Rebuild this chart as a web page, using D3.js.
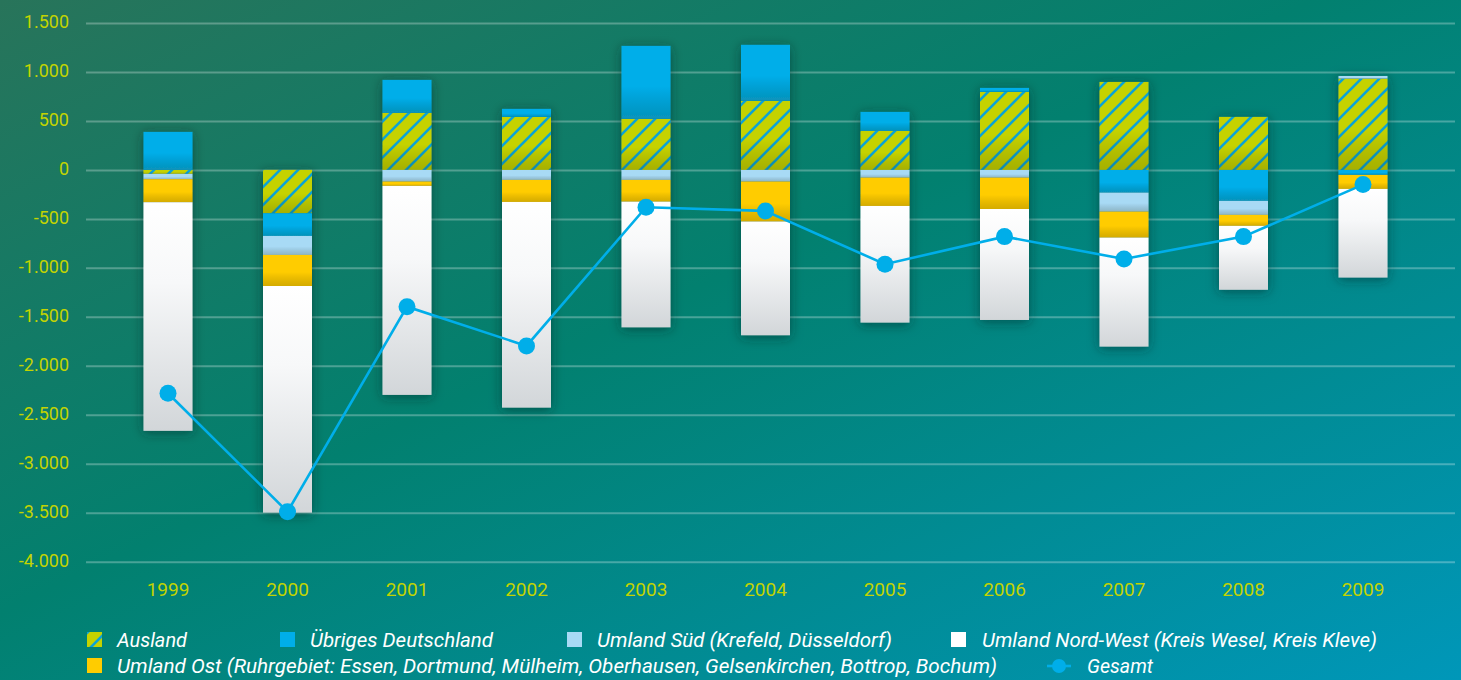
<!DOCTYPE html>
<html><head><meta charset="utf-8">
<script src="https://cdn.jsdelivr.net/npm/d3@7"></script>
<style>html,body{margin:0;padding:0;overflow:hidden;background:#0a7a6a}</style>
</head><body>
<svg id="c" width="1461" height="680"></svg>
<script>
// ---- data ----
const years = ["1999","2000","2001","2002","2003","2004","2005","2006","2007","2008","2009"];
const ausland   = [-40, -442, 582, 541, 521, 705, 398, 796, 898, 541, 932];
const uebriges  = [388, -232, 337, 82, 745, 572, 194, 41, -232, -316, -51];
const sued      = [-55, -194, -119, -102, -102, -119, -79, -79, -194, -143, 27];
const ost       = [-235, -317, -44, -225, -222, -408, -289, -320, -265, -112, -143];
const nordwest  = [-2334, -2314, -2134, -2100, -1283, -1161, -1191, -1133, -1113, -653, -905];
const gesamt    = [-2280, -3490, -1396, -1797, -381, -419, -963, -681, -909, -681, -150];
const tickValues = [1500, 1000, 500, 0, -500, -1000, -1500, -2000, -2500, -3000, -3500, -4000];
const seriesKeys = ["ausland","uebriges","sued","ost","nordwest"];
const legendLabels = {
  ausland: "Ausland",
  uebriges: "Übriges Deutschland",
  sued: "Umland Süd (Krefeld, Düsseldorf)",
  nordwest: "Umland Nord-West (Kreis Wesel, Kreis Kleve)",
  ost: "Umland Ost (Ruhrgebiet: Essen, Dortmund, Mülheim, Oberhausen, Gelsenkirchen, Bottrop, Bochum)",
  gesamt: "Gesamt"
};

// ---- setup ----
const W = 1461, H = 680;
const svg = d3.select("#c");
const defs = svg.append("defs");

const bg = defs.append("linearGradient").attr("id","bg").attr("x1","0").attr("y1","0").attr("x2","1").attr("y2","1");
bg.append("stop").attr("offset","0").attr("stop-color","#28745a");
bg.append("stop").attr("offset","0.45").attr("stop-color","#02806f");
bg.append("stop").attr("offset","1").attr("stop-color","#0097b9");

const gw = defs.append("linearGradient").attr("id","gWhite").attr("x1","0").attr("y1","0").attr("x2","0").attr("y2","1");
gw.append("stop").attr("offset","0").attr("stop-color","#ffffff");
gw.append("stop").attr("offset","0.35").attr("stop-color","#f7f8f9");
gw.append("stop").attr("offset","1").attr("stop-color","#d2d6d9");

const gs = defs.append("linearGradient").attr("id","gShade").attr("x1","0").attr("y1","0").attr("x2","0").attr("y2","1");
gs.append("stop").attr("offset","0").attr("stop-color","#000").attr("stop-opacity",0);
gs.append("stop").attr("offset","0.55").attr("stop-color","#000").attr("stop-opacity",0);
gs.append("stop").attr("offset","1").attr("stop-color","#2a2a00").attr("stop-opacity",0.2);

const pat = defs.append("pattern").attr("id","hatch").attr("patternUnits","userSpaceOnUse")
  .attr("width",18).attr("height",18);
pat.append("rect").attr("width",18).attr("height",18).attr("fill","#c5d200");
pat.append("path").attr("d","M-3,3 L3,-3 M0,18 L18,0 M15,21 L21,15")
  .attr("stroke","#0ba3d6").attr("stroke-width",2.6);

const flt = defs.append("filter").attr("id","shadow").attr("x","-40%").attr("y","-10%").attr("width","180%").attr("height","120%");
flt.append("feDropShadow").attr("dx",0).attr("dy",2).attr("stdDeviation",6)
  .attr("flood-color","#00282a").attr("flood-opacity",0.55);

svg.append("rect").attr("width",W).attr("height",H).attr("fill","url(#bg)");

// ---- scales ----
const y = d3.scaleLinear().domain([-4000, 1500]).range([561.7, 23]);
const x = d3.scaleBand().domain(years).range([108.25, 1422.75]).paddingInner(0.59).paddingOuter(0.295);
const cx = d => x(d) + x.bandwidth()/2;

const de = d3.formatLocale({decimal:",", thousands:".", grouping:[3], currency:["","€"], minus:"-"});
const fmt = de.format(",d");

// ---- grid + y labels ----
const yAxis = svg.append("g").attr("transform","translate(86,0)")
  .call(d3.axisLeft(y).tickValues(tickValues).tickFormat(fmt).tickSize(-(1455-86)).tickPadding(17));
yAxis.select(".domain").remove();
yAxis.selectAll(".tick line").attr("stroke","#ffffff").attr("stroke-opacity",0.28).attr("stroke-width",2);
yAxis.selectAll(".tick text").attr("fill","#c3d400").attr("font-family","Roboto, sans-serif")
  .attr("font-size",18).attr("dy","0.26em");

// ---- x labels ----
const xAxis = svg.append("g").attr("transform","translate(0,589)")
  .call(d3.axisBottom(x).tickSize(0).tickPadding(0));
xAxis.select(".domain").remove();
xAxis.selectAll(".tick text").attr("fill","#c3d400").attr("font-family","Roboto, sans-serif")
  .attr("font-size",19).attr("dy","0.35em");

// ---- stacked bars ----
const rows = years.map((yr,i)=>({year:yr, ausland:ausland[i], uebriges:uebriges[i], sued:sued[i], ost:ost[i], nordwest:nordwest[i]}));
const stack = d3.stack().keys(seriesKeys).offset(d3.stackOffsetDiverging)(rows);
const fills = {ausland:"url(#hatch)", uebriges:"#00aee9", sued:"#a8daf5", ost:"#ffcc00", nordwest:"url(#gWhite)"};

const barsG = svg.append("g").attr("filter","url(#shadow)");
stack.forEach(layer=>{
  const key = layer.key;
  const g = barsG.append("g");
  layer.forEach(d=>{
    if (d[1]-d[0] === 0) return;
    const top = y(Math.max(d[0],d[1])), bot = y(Math.min(d[0],d[1]));
    g.append("rect").attr("x", x(d.data.year)).attr("y", top)
      .attr("width", x.bandwidth()).attr("height", bot-top).attr("fill", fills[key]);
    if (key !== "nordwest") {
      g.append("rect").attr("x", x(d.data.year)).attr("y", top)
        .attr("width", x.bandwidth()).attr("height", bot-top).attr("fill","url(#gShade)");
    }
  });
});

// ---- Gesamt line ----
const line = d3.line().x((d,i)=>cx(years[i])).y(d=>y(d));
svg.append("path").attr("d", line(gesamt)).attr("fill","none").attr("stroke","#00aee9").attr("stroke-width",2.6);
svg.append("g").selectAll("circle").data(gesamt).join("circle")
  .attr("cx",(d,i)=>cx(years[i])).attr("cy",d=>y(d)).attr("r",8.5).attr("fill","#00aee9");

// ---- legend ----
const legendItems = [
  {key:"ausland",  row:0, mx:87,  tx:117, tw:70},
  {key:"uebriges", row:0, mx:280, tx:310, tw:183},
  {key:"sued",     row:0, mx:567, tx:597, tw:295},
  {key:"nordwest", row:0, mx:951, tx:982, tw:395},
  {key:"ost",      row:1, mx:87,  tx:117, tw:880},
  {key:"gesamt",   row:1, mx:1047,tx:1087, tw:66}
];
const rowY = [640, 666];
const lg = svg.append("g");
legendItems.forEach(it=>{
  const cy = rowY[it.row];
  if (it.key === "gesamt") {
    lg.append("line").attr("x1",it.mx).attr("x2",it.mx+24).attr("y1",cy).attr("y2",cy)
      .attr("stroke","#00aee9").attr("stroke-width",2.6);
    lg.append("circle").attr("cx",it.mx+12).attr("cy",cy).attr("r",7).attr("fill","#00aee9");
  } else {
    lg.append("rect").attr("x",it.mx).attr("y",cy-8).attr("width",15).attr("height",15)
      .attr("fill", it.key==="nordwest" ? "#ffffff" : fills[it.key]);
  }
  lg.append("text").attr("x",it.tx).attr("y",cy).attr("dy","0.35em")
    .attr("fill","#ffffff").attr("font-family","Roboto, sans-serif").attr("font-style","italic")
    .attr("font-size",20).attr("textLength",it.tw).attr("lengthAdjust","spacingAndGlyphs")
    .text(legendLabels[it.key]);
});
</script>
</body></html>
